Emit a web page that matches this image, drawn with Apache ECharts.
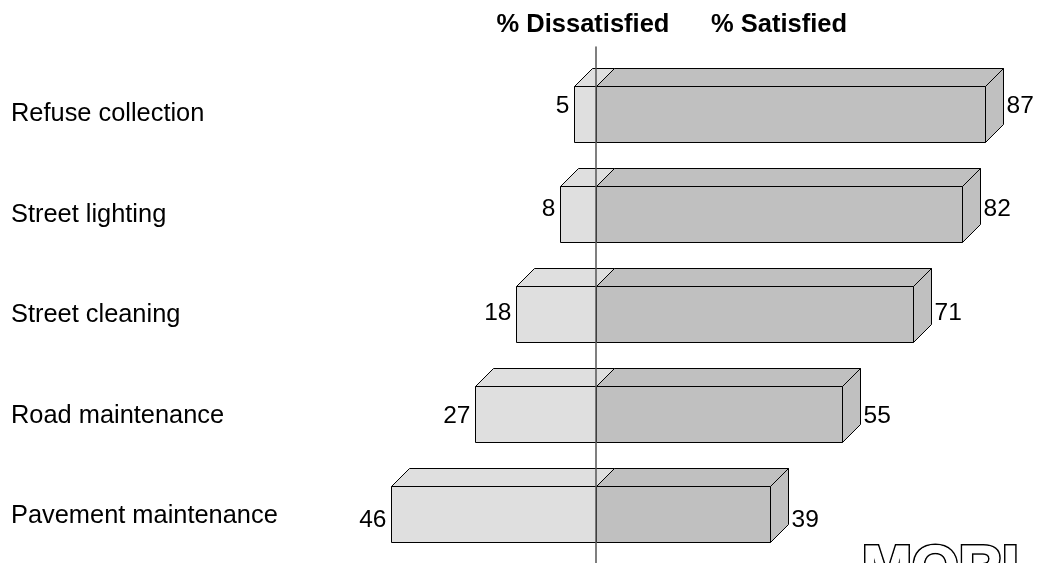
<!DOCTYPE html>
<html>
<head>
<meta charset="utf-8">
<script src="https://cdn.jsdelivr.net/npm/echarts@6/dist/echarts.min.js"></script>
<style>
  html, body { margin: 0; padding: 0; background: #ffffff; }
  #chart { width: 1037px; height: 563px; }
</style>
</head>
<body>
<div id="chart"></div>
<script>
// Survey results: share of residents satisfied / dissatisfied with each service
const categories = ['Refuse collection', 'Street lighting', 'Street cleaning', 'Road maintenance', 'Pavement maintenance'];
const dissatisfied = [5, 8, 18, 27, 46];
const satisfied = [87, 82, 71, 55, 39];
const headings = ['% Dissatisfied', '% Satisfied'];

const FONT = '"Liberation Sans", Arial, Helvetica, sans-serif';
const DX = 18;       // depth of the box, horizontal
const DY = -18;      // depth of the box, vertical
const BAR = 0.56;    // front face height, in row units
const DIS_FILL = '#dfdfdf';
const SAT_FILL = '#c0c0c0';

const rows = categories.map((c, i) => [i, dissatisfied[i], satisfied[i]]);

// snap to pixel centres so 1px outlines stay crisp
const px = v => Math.round(v) + 0.5;

function faceStyle(fill) {
  return { fill: fill, stroke: '#000000', lineWidth: 1 };
}

// Front face, top face and (optionally) right side of a 3D box
function box(x0, x1, top, bottom, fill, withSide) {
  const parts = [];
  parts.push({
    type: 'polygon',
    shape: { points: [[x0, top], [x0 + DX, top + DY], [x1 + DX, top + DY], [x1, top]] },
    style: faceStyle(fill)
  });
  if (withSide) {
    parts.push({
      type: 'polygon',
      shape: { points: [[x1, top], [x1 + DX, top + DY], [x1 + DX, bottom + DY], [x1, bottom]] },
      style: faceStyle(fill)
    });
  }
  parts.push({
    type: 'rect',
    shape: { x: x0, y: top, width: x1 - x0, height: bottom - top },
    style: faceStyle(fill)
  });
  return parts;
}

function renderRow(params, api) {
  const idx = api.value(0);
  const dis = api.value(1);
  const sat = api.value(2);
  const zero = api.coord([0, idx]);
  const left = api.coord([-dis, idx]);
  const right = api.coord([sat, idx]);
  const half = api.size([0, BAR])[1] / 2;
  const yc = zero[1];
  const top = px(yc - half), bottom = px(yc + half);
  const x0 = px(left[0]), xm = px(zero[0]), x1 = px(right[0]);

  const children = []
    .concat(box(x0, xm, top, bottom, DIS_FILL, false))
    .concat(box(xm, x1, top, bottom, SAT_FILL, true));

  // value labels sit slightly above the row centre, drifting down row by row
  const ly = yc - 8 + 3.5 * idx;
  children.push({
    type: 'text',
    style: { text: String(dis), x: x0 - 5, y: ly, textAlign: 'right', textVerticalAlign: 'middle',
             font: '24.5px ' + FONT, fill: '#000' }
  });
  children.push({
    type: 'text',
    style: { text: String(sat), x: x1 + DX + 3, y: ly, textAlign: 'left', textVerticalAlign: 'middle',
             font: '24.5px ' + FONT, fill: '#000' }
  });
  children.push({
    type: 'text',
    style: { text: categories[params.dataIndex], x: 11, y: yc + 0.5 * idx, textAlign: 'left', textVerticalAlign: 'middle',
             font: '25.4px ' + FONT, fill: '#000' }
  });
  return { type: 'group', children: children };
}

const chart = echarts.init(document.getElementById('chart'), null, { renderer: 'canvas' });
chart.setOption({
  animation: false,
  backgroundColor: '#ffffff',
  grid: { left: 328, right: 39, top: 47, bottom: 0, containLabel: false },
  xAxis: {
    type: 'value', min: -60, max: 90,
    axisLine: { show: false }, axisTick: { show: false },
    axisLabel: { show: false }, splitLine: { show: false }
  },
  yAxis: {
    type: 'value', min: -0.67, max: 4.49, inverse: true,
    z: 10,
    axisLine: { show: true, onZero: true, lineStyle: { color: '#555555', width: 1.5 } },
    axisTick: { show: false }, axisLabel: { show: false }, splitLine: { show: false }
  },
  graphic: [
    { type: 'text', x: 583, y: 25, style: { text: headings[0], textAlign: 'center', textVerticalAlign: 'middle',
      font: 'bold 25.5px ' + FONT, fill: '#000' } },
    { type: 'text', x: 779, y: 25, style: { text: headings[1], textAlign: 'center', textVerticalAlign: 'middle',
      font: 'bold 25.5px ' + FONT, fill: '#000' } },
    // hollow "MORI" mark: thick black outline with a white core line
    { type: 'text', x: 862, y: 540, z: 100, style: { text: 'MORI', textAlign: 'left', textVerticalAlign: 'top',
      font: 'bold 60px ' + FONT, fill: '#ffffff', stroke: '#000000', lineWidth: 4 } },
    { type: 'text', x: 862, y: 540, z: 101, style: { text: 'MORI', textAlign: 'left', textVerticalAlign: 'top',
      font: 'bold 60px ' + FONT, fill: '#ffffff', stroke: '#ffffff', lineWidth: 1 } }
  ],
  series: [{
    type: 'custom',
    renderItem: renderRow,
    encode: { x: [1, 2], y: 0 },
    data: rows,
    clip: false
  }]
});
</script>
</body>
</html>
